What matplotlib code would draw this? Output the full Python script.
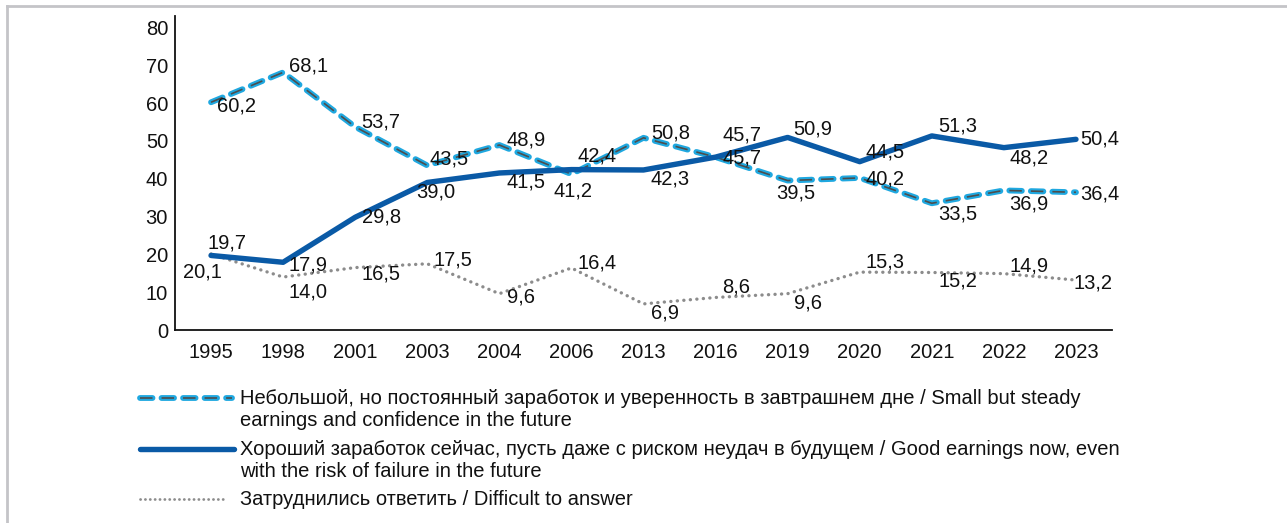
import matplotlib
matplotlib.use('Agg')
import matplotlib.pyplot as plt
from matplotlib.lines import Line2D

plt.rcParams['font.family'] = ['Liberation Sans', 'DejaVu Sans']
plt.rcParams['lines.scale_dashes'] = False

years = ['1995', '1998', '2001', '2003', '2004', '2006', '2013', '2016', '2019', '2020', '2021', '2022', '2023']
steady = [60.2, 68.1, 53.7, 43.5, 48.9, 41.2, 50.8, 45.7, 39.5, 40.2, 33.5, 36.9, 36.4]
good_now = [19.7, 17.9, 29.8, 39.0, 41.5, 42.4, 42.3, 45.7, 50.9, 44.5, 51.3, 48.2, 50.4]
no_answer = [20.1, 14.0, 16.5, 17.5, 9.6, 16.4, 6.9, 8.6, 9.6, 15.3, 15.2, 14.9, 13.2]

labels = [
    'Небольшой, но постоянный заработок и уверенность в завтрашнем дне / Small but steady\nearnings and confidence in the future',
    'Хороший заработок сейчас, пусть даже с риском неудач в будущем / Good earnings now, even\nwith the risk of failure in the future',
    'Затруднились ответить / Difficult to answer',
]

# label offsets in pixels (dx, dy), picked by eye
off_steady = [(25, -4), (25, 6), (26, 5), (22, 6), (27, 5), (2, -17), (27, 5),
              (26, -1), (8, -12), (25, -1), (26, -11), (25, -14), (24, -2)]
off_good = [(16, 12), (25, -3), (26, 0), (8, -10), (27, -9), (26, 14), (27, -9),
            (26, 22), (25, 8), (25, 10), (26, 10), (25, -10), (24, 0)]
off_noans = [(-9, -18), (25, -15), (26, -6), (26, 4), (22, -3), (26, 5), (21, -9),
             (21, 10), (20, -9), (25, 10), (26, -9), (25, 8), (17, -3)]

W, H = 1287, 523
FS = 14.5
fig = plt.figure(figsize=(W / 100, H / 100), dpi=100)
ax = fig.add_axes([175 / W, 1 - 330 / H, (1112 - 175) / W, (330 - 16) / H])

cyan = '#1fa8e0'
navy = '#0a5aa6'
grey = '#8c8c8c'
x = range(len(years))

ax.plot(x, steady, color=cyan, lw=4.2, dashes=(9, 6.5), dash_capstyle='round', zorder=3)
ax.plot(x, steady, color='#4d4d4d', lw=1.2, dashes=(9, 6.5), dash_capstyle='butt', zorder=3)
ax.plot(x, good_now, color=navy, lw=3.9, solid_capstyle='round', zorder=4)
ax.plot(x, no_answer, color=grey, lw=2.4, dashes=(0.1, 4.6), dash_capstyle='round', zorder=2)

for vals, offs in [(steady, off_steady), (good_now, off_good), (no_answer, off_noans)]:
    for i, v in enumerate(vals):
        ax.annotate(f'{v:.1f}'.replace('.', ','), (i, v), xytext=offs[i], textcoords='offset pixels',
                    ha='center', va='center', fontsize=FS, color='#111111', zorder=5)

ax.set_xlim(-0.5, len(years) - 0.5)
ax.set_ylim(0, 83)
ax.set_yticks(range(0, 81, 10))
ax.set_xticks(list(x))
ax.set_xticklabels(years)
ax.tick_params(length=0, labelsize=FS, colors='#111111')
ax.tick_params(axis='x', pad=9)
ax.tick_params(axis='y', pad=5)
for s in ['top', 'right']:
    ax.spines[s].set_visible(False)
for s in ['left', 'bottom']:
    ax.spines[s].set_linewidth(1.3)
    ax.spines[s].set_color('#111111')

# legend drawn by hand in figure pixels
def fx(px):
    return px / W

def fy(py):
    return 1 - py / H

leg_y = [398, 449, 499]
fig.add_artist(Line2D([fx(140), fx(232)], [fy(398)] * 2, color=cyan, lw=4.2, dashes=(9, 6.5), dash_capstyle='round'))
fig.add_artist(Line2D([fx(140), fx(232)], [fy(398)] * 2, color='#4d4d4d', lw=1.2, dashes=(9, 6.5), dash_capstyle='butt'))
fig.add_artist(Line2D([fx(140), fx(234)], [fy(449)] * 2, color=navy, lw=3.9, solid_capstyle='round'))
fig.add_artist(Line2D([fx(140), fx(226)], [fy(499)] * 2, color=grey, lw=2.0, dashes=(0.1, 3.4), dash_capstyle='round'))
for ly, lab in zip(leg_y, labels):
    fig.text(fx(240), fy(ly - 9), lab, ha='left', va='top', fontsize=FS, color='#111111', linespacing=1.2)

# frame lines at top and left
fig.add_artist(Line2D([fx(7), 1], [fy(6), fy(6)], color='#c4c4c8', lw=2))
fig.add_artist(Line2D([fx(7), fx(7)], [fy(6), 0], color='#c4c4c8', lw=2))

fig.savefig('out.png', dpi=100)
